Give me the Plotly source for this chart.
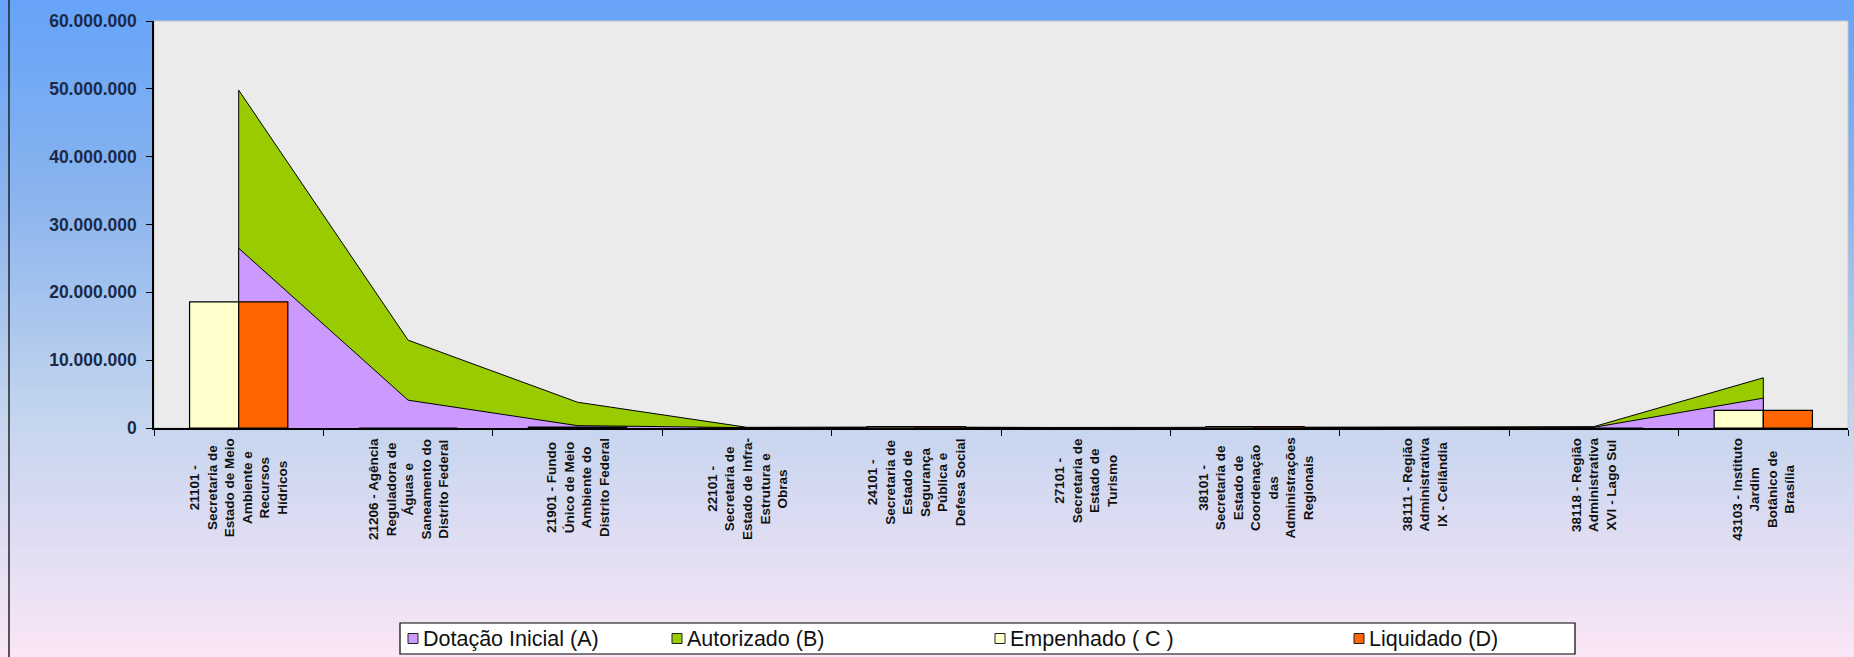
import plotly.graph_objects as go

# unidades orçamentárias (eixo X)
codigos = ["21101", "21206", "21901", "22101", "24101",
           "27101", "38101", "38111", "38118", "43103"]

rotulos = [
    "21101 -<br>Secretaria de<br>Estado de Meio<br>Ambiente e<br>Recursos<br>Hídricos",
    "21206 - Agência<br>Reguladora de<br>Águas e<br>Saneamento do<br>Distrito Federal",
    "21901 - Fundo<br>Único de Meio<br>Ambiente do<br>Distrito Federal",
    "22101 -<br>Secretaria de<br>Estado de Infra-<br>Estrutura e<br>Obras",
    "24101 -<br>Secretaria de<br>Estado de<br>Segurança<br>Pública e<br>Defesa Social",
    "27101 -<br>Secretaria de<br>Estado de<br>Turismo",
    "38101 -<br>Secretaria de<br>Estado de<br>Coordenação<br>das<br>Administrações<br>Regionais",
    "38111 - Região<br>Administrativa<br>IX - Ceilândia",
    "38118 - Região<br>Administrativa<br>XVI - Lago Sul",
    "43103 - Instituto<br>Jardim<br>Botânico de<br>Brasília",
]

# valores em R$
dotacao_inicial = [26500000, 4100000, 350000, 50000, 100000, 50000, 100000, 50000, 100000, 4400000]
autorizado = [49800000, 12950000, 3800000, 100000, 150000, 50000, 100000, 50000, 200000, 7400000]
empenhado = [18600000, 0, 150000, 0, 200000, 0, 200000, 0, 0, 2600000]
liquidado = [18600000, 0, 150000, 0, 200000, 0, 200000, 0, 0, 2600000]

series_nomes = ["Dotação Inicial (A)", "Autorizado (B)", "Empenhado ( C )", "Liquidado (D)"]
series_cores = ["#cc99ff", "#99cc00", "#ffffcc", "#ff6600"]

y_ticks = [0, 10000000, 20000000, 30000000, 40000000, 50000000, 60000000]

W, H = 1854, 657
ML, MR, MT, MB = 154, 6, 21, 229
PW = W - ML - MR
PH = H - MT - MB


def px_x(p):
    return (p - ML) / PW


def px_y(p):
    return (H - MB - p) / PH


fig = go.Figure()

# áreas (polígono fechado até a base)
def area(valores, nome, cor):
    idx = list(range(len(codigos)))
    xs = [idx[0]] + idx + [idx[-1]]
    ys = [0] + valores + [0]
    return go.Scatter(
        x=xs, y=ys, name=nome, mode="lines", fill="toself",
        fillcolor=cor, line=dict(color="black", width=1),
        showlegend=False, hoverinfo="skip", yaxis="y"
    )

fig.add_trace(area(autorizado, series_nomes[1], series_cores[1]))
fig.add_trace(area(dotacao_inicial, series_nomes[0], series_cores[0]))

# barras no eixo sobreposto para ficarem na frente das áreas
fig.add_trace(go.Bar(
    x=list(range(len(codigos))), y=empenhado, name=series_nomes[2],
    marker=dict(color=series_cores[2], line=dict(color="black", width=1.2)),
    width=0.29, offset=-0.29, yaxis="y2", showlegend=False
))
fig.add_trace(go.Bar(
    x=list(range(len(codigos))), y=liquidado, name=series_nomes[3],
    marker=dict(color=series_cores[3], line=dict(color="black", width=1.2)),
    width=0.29, offset=0, yaxis="y2", showlegend=False
))

# fundo em degradê (azul -> rosa)
def mistura(c1, c2, t):
    a = [int(c1[i:i + 2], 16) for i in (1, 3, 5)]
    b = [int(c2[i:i + 2], 16) for i in (1, 3, 5)]
    return "#" + "".join(f"{round(a[k] + (b[k] - a[k]) * t):02x}" for k in range(3))

paradas = [(0.0, "#66a3f8"), (0.3, "#8ab4ee"), (0.62, "#c2d4ee"), (0.8, "#dcdcf2"), (1.0, "#fbe6f6")]

def cor_grad(t):
    for (t0, c0), (t1, c1) in zip(paradas[:-1], paradas[1:]):
        if t <= t1:
            return mistura(c0, c1, (t - t0) / (t1 - t0))
    return paradas[-1][1]

shapes = []
n = 90
for i in range(n):
    py0 = H * i / n
    py1 = H * (i + 1) / n + 1
    shapes.append(dict(
        type="rect", xref="paper", yref="paper", layer="below",
        x0=px_x(0), x1=px_x(W), y0=px_y(py1), y1=px_y(py0),
        fillcolor=cor_grad((i + 0.5) / n), line=dict(width=0)
    ))
# área de plotagem (granito claro)
shapes.append(dict(
    type="rect", xref="paper", yref="paper", layer="below",
    x0=0, x1=1, y0=0, y1=1, fillcolor="#ebebeb",
    line=dict(color="#c8c8c8", width=1)
))
# borda esquerda do gráfico
shapes.append(dict(
    type="line", xref="paper", yref="paper",
    x0=px_x(9), x1=px_x(9), y0=px_y(H), y1=px_y(0),
    line=dict(color="#222222", width=1.5)
))

# rótulos das categorias (linhas centralizadas, girados)
annotations = []
for i, txt in enumerate(rotulos):
    annotations.append(dict(
        x=i, y=0, xref="x", yref="y",
        text="<b>" + txt.replace("<br>", "</b><br><b>") + "</b>",
        showarrow=False, textangle=-90,
        xanchor="center", yanchor="top", align="center",
        yshift=-8,
        font=dict(family="Liberation Sans, Arial, sans-serif", size=13.5, color="#111111")
    ))

# legenda (caixa com quadrados e textos)
leg_y0, leg_y1 = 623, 654
leg_cy = (leg_y0 + leg_y1) / 2
shapes.append(dict(
    type="rect", xref="paper", yref="paper",
    x0=px_x(400), x1=px_x(1575), y0=px_y(leg_y1), y1=px_y(leg_y0),
    fillcolor="white", line=dict(color="black", width=1.2)
))
leg_x = [408, 672, 995, 1354]
for nome, cor, lx in zip(series_nomes, series_cores, leg_x):
    shapes.append(dict(
        type="rect", xref="paper", yref="paper",
        x0=px_x(lx), x1=px_x(lx + 10), y0=px_y(leg_cy + 5), y1=px_y(leg_cy - 5),
        fillcolor=cor, line=dict(color="#222222", width=1)
    ))
    annotations.append(dict(
        x=px_x(lx + 13), y=px_y(leg_cy), xref="paper", yref="paper",
        text=nome, showarrow=False, xanchor="left", yanchor="middle",
        font=dict(family="Liberation Sans, Arial, sans-serif", size=21.5, color="#111111")
    ))

fig.update_layout(
    width=W, height=H,
    margin=dict(l=ML, r=MR, t=MT, b=MB, pad=0),
    paper_bgcolor="#ffffff",
    plot_bgcolor="rgba(0,0,0,0)",
    separators=",.",
    barmode="overlay",
    shapes=shapes,
    annotations=annotations,
    showlegend=False,
    xaxis=dict(
        range=[-0.5, len(codigos) - 0.5],
        tickvals=[i - 0.5 for i in range(len(codigos) + 1)],
        showticklabels=False,
        ticks="outside", ticklen=6, tickcolor="black",
        showline=True, linecolor="black", linewidth=1.5,
        showgrid=False, zeroline=False, fixedrange=True,
    ),
    yaxis=dict(
        range=[0, 60000000], tickvals=y_ticks, tickformat=",d",
        ticks="outside", ticklen=6, tickcolor="black",
        showline=True, linecolor="black", linewidth=1.5,
        showgrid=False, zeroline=False,
        ticklabelstandoff=6,
        tickfont=dict(family="Liberation Sans, Arial, sans-serif", size=17.5,
                      color="#1b2a47", weight="bold"),
    ),
    yaxis2=dict(
        range=[0, 60000000], overlaying="y", side="left",
        visible=False, showgrid=False, zeroline=False,
    ),
)

fig.write_html("out.html", config={"displayModeBar": False},
               post_script="document.body.style.margin='0';")
